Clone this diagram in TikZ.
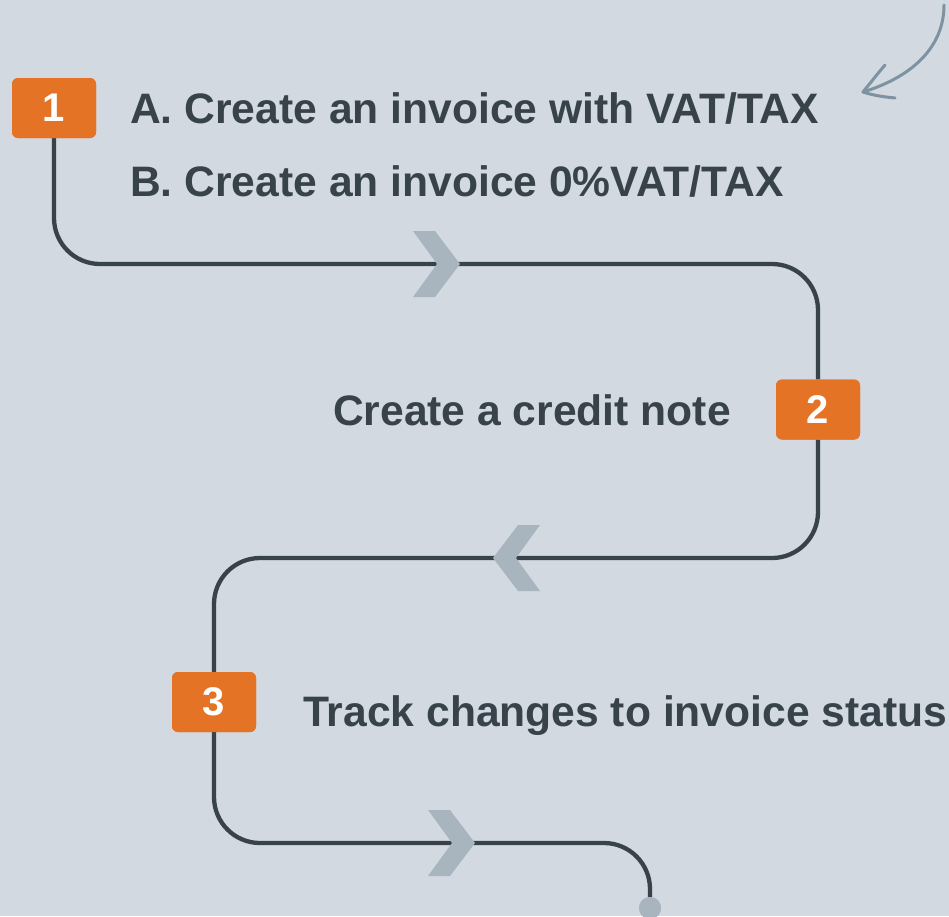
\documentclass[tikz,border=0pt]{standalone}
\usepackage{fontspec}
\setmainfont{Liberation Sans}
\definecolor{bg}{HTML}{D2D9E0}
\definecolor{ink}{HTML}{37424B}
\definecolor{orng}{HTML}{E57326}
\definecolor{chev}{HTML}{A9B5BE}
\definecolor{curl}{HTML}{7D93A1}
\tikzset{
  numbox/.style={fill=orng, rounded corners=6pt, minimum width=84pt, minimum height=60pt, inner sep=0pt, text=white, font=\fontsize{40}{48}\selectfont\bfseries},
  lbl/.style={inner sep=0pt, text=ink, font=\fontsize{42.6}{50}\selectfont\bfseries},
  route/.style={draw=ink, line width=4.3pt, rounded corners=46pt},
  chevshape/.style={fill=chev, draw=none},
  pics/chevron/.style={code={\fill[chevshape] (-47pt,33pt) -- (-25pt,33pt) -- (0,0) -- (-25pt,-33pt) -- (-47pt,-33pt) -- (-23pt,0) -- cycle;}}
}
\begin{document}
\begin{tikzpicture}[x=1pt,y=-1pt]
\useasboundingbox (0,0) rectangle (949,916);
\fill[bg] (0,0) rectangle (949,916);
% nodes
\node[numbox] (b1) at (54,108) {1};
\node[numbox] (b2) at (818,409.5) {2};
\node[numbox] (b3) at (214,702) {3};
\node[circle, fill=chev, minimum size=22pt, inner sep=0pt] (end) at (650,908) {};
\coordinate (c1) at (460,264);
\coordinate (c2) at (493,558);
\coordinate (c3) at (475,843);
% routes
\draw[route] (b1.south) |- (c1) -| (b2.north);
\draw[route] (b2.south) |- (c2) -| (b3.north);
\draw[route] (b3.south) |- (c3) -| (end.north);
% redraw boxes & dot on top
\node[numbox] at (b1) {1};
\node[numbox] at (b2) {2};
\node[numbox] at (b3) {3};
\fill[chev] (end) circle (11pt);
% chevrons
\pic at (c1) {chevron};
\pic[xscale=-1] at (c2) {chevron};
\pic at (c3) {chevron};
% labels
\node[lbl, anchor=base west] (ta) at (130,123) {A. Create an invoice with VAT/TAX};
\node[lbl, anchor=base west] (tb) at (130,196) {B. Create an invoice 0\%VAT/TAX};
\node[lbl, anchor=base east] (t2) at (731,425) {Create a credit note};
\node[lbl, anchor=base west] (t3) at (303,726) {Track changes to invoice status};
% curly arrow
\coordinate (cs) at (944,5);
\coordinate (ct) at (863,92);
\draw[curl, line width=3pt, line cap=round] (cs) .. controls (944,45) and (915,76) .. (ct);
\draw[curl, line width=3pt, line cap=round] (ct) .. controls (871,82) and (879,72) .. (885,65);
\draw[curl, line width=3pt, line cap=round] (ct) .. controls (875,96) and (886,97) .. (895,98);
\end{tikzpicture}
\end{document}
